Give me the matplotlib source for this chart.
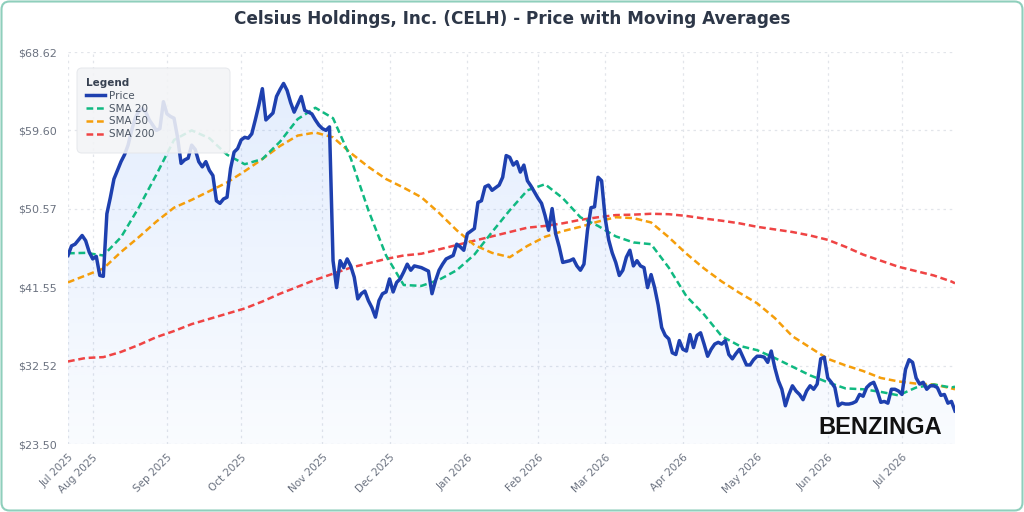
import numpy as np
import pandas as pd
import matplotlib
matplotlib.use("Agg")
import matplotlib.pyplot as plt
from matplotlib.patches import FancyBboxPatch

# ---------------- data ----------------
TITLE = "Celsius Holdings, Inc. (CELH) - Price with Moving Averages"
START, END = "2025-07-23", "2026-07-23"
HOLIDAYS = ["2025-09-01", "2025-11-27", "2025-12-25", "2026-01-01", "2026-01-19",
            "2026-02-16", "2026-04-03", "2026-05-25", "2026-06-19", "2026-07-03"]

price = [
    45.2, 46.3, 46.5, 47.0, 47.5, 46.9, 45.6, 44.8, 45.1, 42.9,
    42.8, 50.0, 51.9, 54.0, 55.0, 56.0, 56.8, 57.9, 59.6, 61.0,
    61.8, 62.1, 61.7, 60.8, 60.2, 59.6, 59.8, 62.9, 61.5, 61.2,
    61.0, 58.8, 55.8, 56.2, 56.4, 57.9, 57.4, 56.0, 55.4, 56.0,
    55.0, 54.4, 51.5, 51.2, 51.7, 51.9, 55.2, 57.1, 57.5, 58.5,
    58.8, 58.7, 59.2, 60.8, 62.5, 64.4, 60.8, 61.2, 61.6, 63.5,
    64.3, 65.0, 64.2, 62.8, 61.7, 62.6, 63.5, 61.9, 61.7, 61.5,
    60.8, 60.2, 59.8, 59.6, 60.0, 44.6, 41.5, 44.6, 43.8, 44.8,
    44.0, 42.7, 40.2, 40.8, 41.1, 40.0, 39.2, 38.1, 40.0, 40.8,
    41.0, 42.5, 41.0, 42.1, 42.5, 43.3, 44.2, 43.5, 44.0, 43.9,
    43.8, 43.6, 43.4, 40.8, 42.3, 43.5, 44.2, 44.8, 45.0, 45.2,
    46.5, 46.2, 45.8, 47.7, 48.0, 48.3, 51.3, 51.5, 53.1, 53.3,
    52.7, 53.0, 53.3, 54.2, 56.7, 56.5, 55.6, 56.0, 54.8, 55.6,
    53.8, 53.2, 52.5, 51.8, 51.2, 49.8, 48.1, 50.6, 47.7, 46.2,
    44.4, 44.5, 44.6, 44.8, 44.0, 43.5, 44.2, 48.1, 50.7, 50.8,
    54.2, 53.8, 49.5, 47.0, 45.5, 44.4, 42.9, 43.5, 45.0, 45.8,
    44.0, 44.6, 44.0, 43.8, 41.5, 43.0, 41.5, 39.5, 36.9, 36.0,
    35.6, 34.0, 33.8, 35.4, 34.4, 34.2, 36.1, 34.6, 36.0, 36.3,
    35.0, 33.6, 34.4, 35.0, 35.2, 35.0, 35.4, 33.8, 33.3, 33.9,
    34.4, 33.5, 32.6, 32.6, 33.2, 33.6, 33.6, 33.5, 32.9, 34.2,
    32.3, 30.8, 29.8, 27.9, 29.2, 30.2, 29.6, 29.2, 28.6, 29.6,
    30.2, 29.8, 30.4, 33.3, 33.5, 31.1, 30.6, 30.0, 27.9, 28.2,
    28.1, 28.1, 28.2, 28.4, 29.2, 29.0, 30.0, 30.4, 30.6, 29.6,
    28.3, 28.4, 28.2, 29.8, 29.8, 29.6, 29.2, 32.1, 33.2, 32.9,
    31.1, 30.4, 30.6, 29.8, 30.2, 30.2, 30.0, 29.1, 29.2, 28.2,
    28.4, 27.3,
]

# moving averages read every 5 trading days (plus the last day)
SMA_STEP = 5
sma20 = [
    45.45, 45.5, 45.2, 47.3, 50.7, 54.5, 58.5, 59.6, 58.7, 56.8,
    55.7, 56.3, 58.3, 60.9, 62.2, 61.0, 56.4, 50.4, 45.2, 41.8,
    41.7, 42.4, 43.5, 45.3, 47.9, 50.4, 52.7, 53.4, 51.8, 49.6,
    48.6, 47.4, 46.7, 46.5, 43.8, 40.5, 38.4, 35.9, 34.8, 34.3,
    33.4, 32.4, 31.4, 30.6, 29.9, 29.8, 29.5, 29.1, 30.0, 30.35,
    30.0, 30.1,
]
sma50 = [
    42.1, 42.9, 43.7, 45.6, 47.3, 49.1, 50.7, 51.6, 52.6, 53.6,
    54.9, 56.3, 57.8, 59.0, 59.35, 58.8, 57.0, 55.4, 54.0, 53.0,
    51.9, 50.1, 48.1, 46.4, 45.5, 45.0, 46.3, 47.35, 48.0, 48.5,
    49.1, 49.6, 49.5, 49.0, 47.3, 45.4, 43.7, 42.2, 40.9, 39.7,
    38.0, 35.9, 34.6, 33.3, 32.55, 31.9, 31.1, 30.7, 30.45, 30.36,
    29.9, 29.8,
]
sma200 = [
    33.0, 33.4, 33.5, 34.1, 34.9, 35.8, 36.5, 37.3, 37.9, 38.5,
    39.1, 39.9, 40.8, 41.6, 42.4, 43.1, 43.8, 44.3, 44.8, 45.2,
    45.4, 45.9, 46.4, 46.9, 47.4, 47.9, 48.4, 48.6, 48.9, 49.3,
    49.6, 49.85, 49.9, 50.0, 49.95, 49.75, 49.45, 49.2, 48.9, 48.5,
    48.2, 47.9, 47.5, 47.0, 46.2, 45.3, 44.6, 43.9, 43.4, 42.9,
    42.2, 42.0,
]
y_ticks = [23.50, 32.52, 41.55, 50.57, 59.60, 68.62]

series_names = ["Price", "SMA 20", "SMA 50", "SMA 200"]
colors = ["#1e40af", "#10b981", "#f59e0b", "#ef4444"]

# ---------------- build axes ----------------
dates = pd.bdate_range(START, END, freq="C", holidays=HOLIDAYS)
n = len(dates)
price = np.array(price[:n])
x = np.arange(n)
sma_x = list(range(0, n, SMA_STEP))
if sma_x[-1] != n - 1:
    sma_x.append(n - 1)
sma_x = np.array(sma_x)

fig = plt.figure(figsize=(10.24, 5.12), dpi=100)
fig.patch.set_facecolor("white")
ax = fig.add_axes([68 / 1024, 1 - 444 / 512, (955 - 68) / 1024, (444 - 52) / 512])
ax.set_facecolor("white")

ymin, ymax = y_ticks[0], y_ticks[-1]

# gradient fill under price
poly = ax.fill_between(x, price, ymin, color="none", lw=0)
path = poly.get_paths()[0]
grad = np.zeros((256, 1, 4))
grad[..., 0] = 59 / 255
grad[..., 1] = 130 / 255
grad[..., 2] = 246 / 255
grad[:, 0, 3] = np.linspace(0.03, 0.14, 256)
im = ax.imshow(grad, extent=[0, n - 1, ymin, price.max()], origin="lower",
               aspect="auto", zorder=1, interpolation="bilinear")
im.set_clip_path(path, transform=ax.transData)

ls = (0, (2.7, 1.5))
ax.plot(sma_x, sma200, color=colors[3], lw=1.8, ls=ls, zorder=3, label=series_names[3])
ax.plot(sma_x, sma50, color=colors[2], lw=1.8, ls=ls, zorder=3, label=series_names[2])
ax.plot(sma_x, sma20, color=colors[1], lw=1.8, ls=ls, zorder=3, label=series_names[1])
ax.plot(x, price, color=colors[0], lw=2.5, zorder=4, label=series_names[0],
        solid_joinstyle="round")

ax.set_xlim(0, n - 1)
ax.set_ylim(ymin, ymax)

# ticks
months = dates.to_period("M")
tick_idx = [0] + [i for i in range(1, n) if months[i] != months[i - 1]]
ax.set_xticks(tick_idx)
ax.set_xticklabels([dates[i].strftime("%b %Y") for i in tick_idx], rotation=45,
                   ha="right", rotation_mode="anchor", fontsize=7.5, color="#6b7280")
ax.set_yticks(y_ticks)
ax.set_yticklabels([f"${v:.2f}" for v in y_ticks], fontsize=8, color="#6b7280")
ax.tick_params(axis="both", length=0)
ax.tick_params(axis="y", pad=8)
ax.tick_params(axis="x", pad=6)
for s in ax.spines.values():
    s.set_visible(False)
ax.grid(True, color="#e2e5ea", lw=0.9, ls=(0, (2, 3)), zorder=0)
ax.set_axisbelow(True)

# legend box
box = FancyBboxPatch((0.77, 3.59), 1.53, 0.85,
                     boxstyle="round,pad=0,rounding_size=0.05",
                     transform=fig.dpi_scale_trans, facecolor="#f3f4f6",
                     edgecolor="#e5e7eb", lw=0.8, alpha=0.88, zorder=5)
ax.add_patch(box)
handles, labels = ax.get_legend_handles_labels()
order = [labels.index(nm) for nm in series_names]
leg = ax.legend([handles[i] for i in order], [labels[i] for i in order],
                loc="upper left", bbox_to_anchor=(0.86, 4.34),
                bbox_transform=fig.dpi_scale_trans, frameon=False,
                title="Legend", alignment="left", fontsize=7.5,
                title_fontproperties={"weight": "bold", "size": 7.5},
                handlelength=1.8, handletextpad=0.45, labelspacing=0.27,
                borderpad=0, borderaxespad=0)
leg.set_zorder(6)
leg.get_title().set_color("#374151")
for t in leg.get_texts():
    t.set_color("#4b5563")

# title
fig.text(0.5, 1 - 19 / 512, TITLE, ha="center", va="center", fontsize=12.2,
         fontweight="bold", color="#2d3748")

# watermark
fig.text(880 / 1024, 1 - 427 / 512, "BENZINGA", ha="center", va="center",
         fontsize=17, fontweight="bold", color="#111111",
         family=["Liberation Sans", "DejaVu Sans"], zorder=10)

# outer rounded border
border = FancyBboxPatch((0.015, 0.015), 10.21, 5.09,
                        boxstyle="round,pad=0,rounding_size=0.08",
                        transform=fig.dpi_scale_trans, fill=False,
                        edgecolor="#8fcfbc", lw=1.5)
fig.patches.append(border)

fig.savefig("out.png", dpi=100, facecolor="white")
